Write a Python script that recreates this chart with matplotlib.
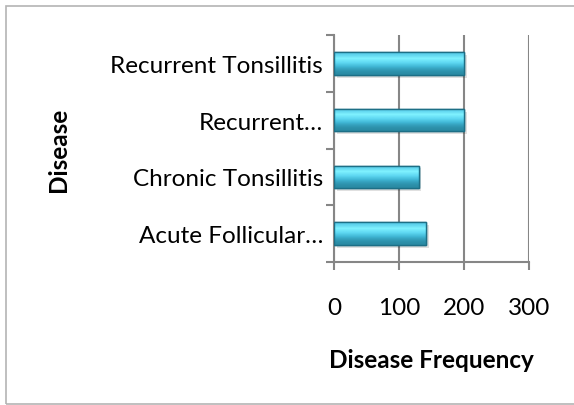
import matplotlib
matplotlib.use("Agg")
from matplotlib import pyplot as plt
from matplotlib.patches import Rectangle
import numpy as np

categories = ["Acute Follicular\u2026", "Chronic Tonsillitis", "Recurrent\u2026", "Recurrent Tonsillitis"]
frequency = [142, 130, 200, 200]
x_ticks = [0, 100, 200, 300]

plt.rcParams['font.family'] = ['Lato', 'DejaVu Sans']
fs = 17.5

fig = plt.figure(figsize=(5.74, 4.06), dpi=100)
ax = fig.add_axes([334 / 574, 1 - 263 / 406, 195 / 574, 227 / 406])

# outer chart frame (right edge falls off the picture)
fig.patches.append(Rectangle((6 / 574, 1 / 406), 1.2, 398 / 406, transform=fig.transFigure,
                             fill=False, edgecolor='#b4b4b4', linewidth=1.2))

y = np.arange(len(categories))
bar_h = 0.4

# soft shadow
ax.barh(y - 0.05, frequency, height=bar_h, left=4, color='#000000', alpha=0.12, zorder=2, linewidth=0)
bars = ax.barh(y, frequency, height=bar_h, color='#4cc6e6', edgecolor='#1d6f86', linewidth=1.0, zorder=3)

# vertical gradient on each bar
grad = np.array([[0.0], [0.15], [0.45], [0.7], [1.0]])
cmap = matplotlib.colors.LinearSegmentedColormap.from_list(
    'bar', ['#2a8aa3', '#3fb5d4', '#5fd8f2', '#80f2ff', '#56cbe9'])
for b in bars:
    x0, y0, w, h = b.get_x(), b.get_y(), b.get_width(), b.get_height()
    im = ax.imshow(grad, extent=[x0, x0 + w, y0, y0 + h], aspect='auto', cmap=cmap,
                   origin='lower', zorder=3.5, interpolation='bicubic')
    im.set_clip_path(b)
    ax.add_patch(Rectangle((x0, y0), w, h, fill=False, edgecolor='#1d6f86', linewidth=1.0, zorder=4))

ax.set_xlim(0, 300)
ax.set_ylim(-0.5, len(categories) - 0.5)
ax.set_xticks(x_ticks)
ax.set_xticklabels([str(t) for t in x_ticks], fontsize=fs)
ax.set_yticks(y)
ax.set_yticklabels(categories, fontsize=fs)
ax.set_yticks(np.arange(-0.5, len(categories), 1), minor=True)
ax.tick_params(axis='y', which='major', length=0, pad=8)
ax.tick_params(axis='y', which='minor', length=6, width=1.5, color='#868686', direction='out')
ax.tick_params(axis='x', length=6, width=1.5, color='#868686', pad=19.5)

ax.grid(True, axis='x', color='#868686', linewidth=1.5, zorder=1)
ax.set_axisbelow(True)
for side in ['top', 'right']:
    ax.spines[side].set_visible(False)
for side in ['left', 'bottom']:
    ax.spines[side].set_color('#868686')
    ax.spines[side].set_linewidth(1.5)

ax.set_xlabel("Disease Frequency", fontsize=fs, fontweight='bold', labelpad=21)
fig.text(58 / 574, 1 - 150 / 406, "Disease", rotation=90, fontsize=fs, fontweight='bold',
         ha='center', va='center')

fig.savefig("out.png", dpi=100)
